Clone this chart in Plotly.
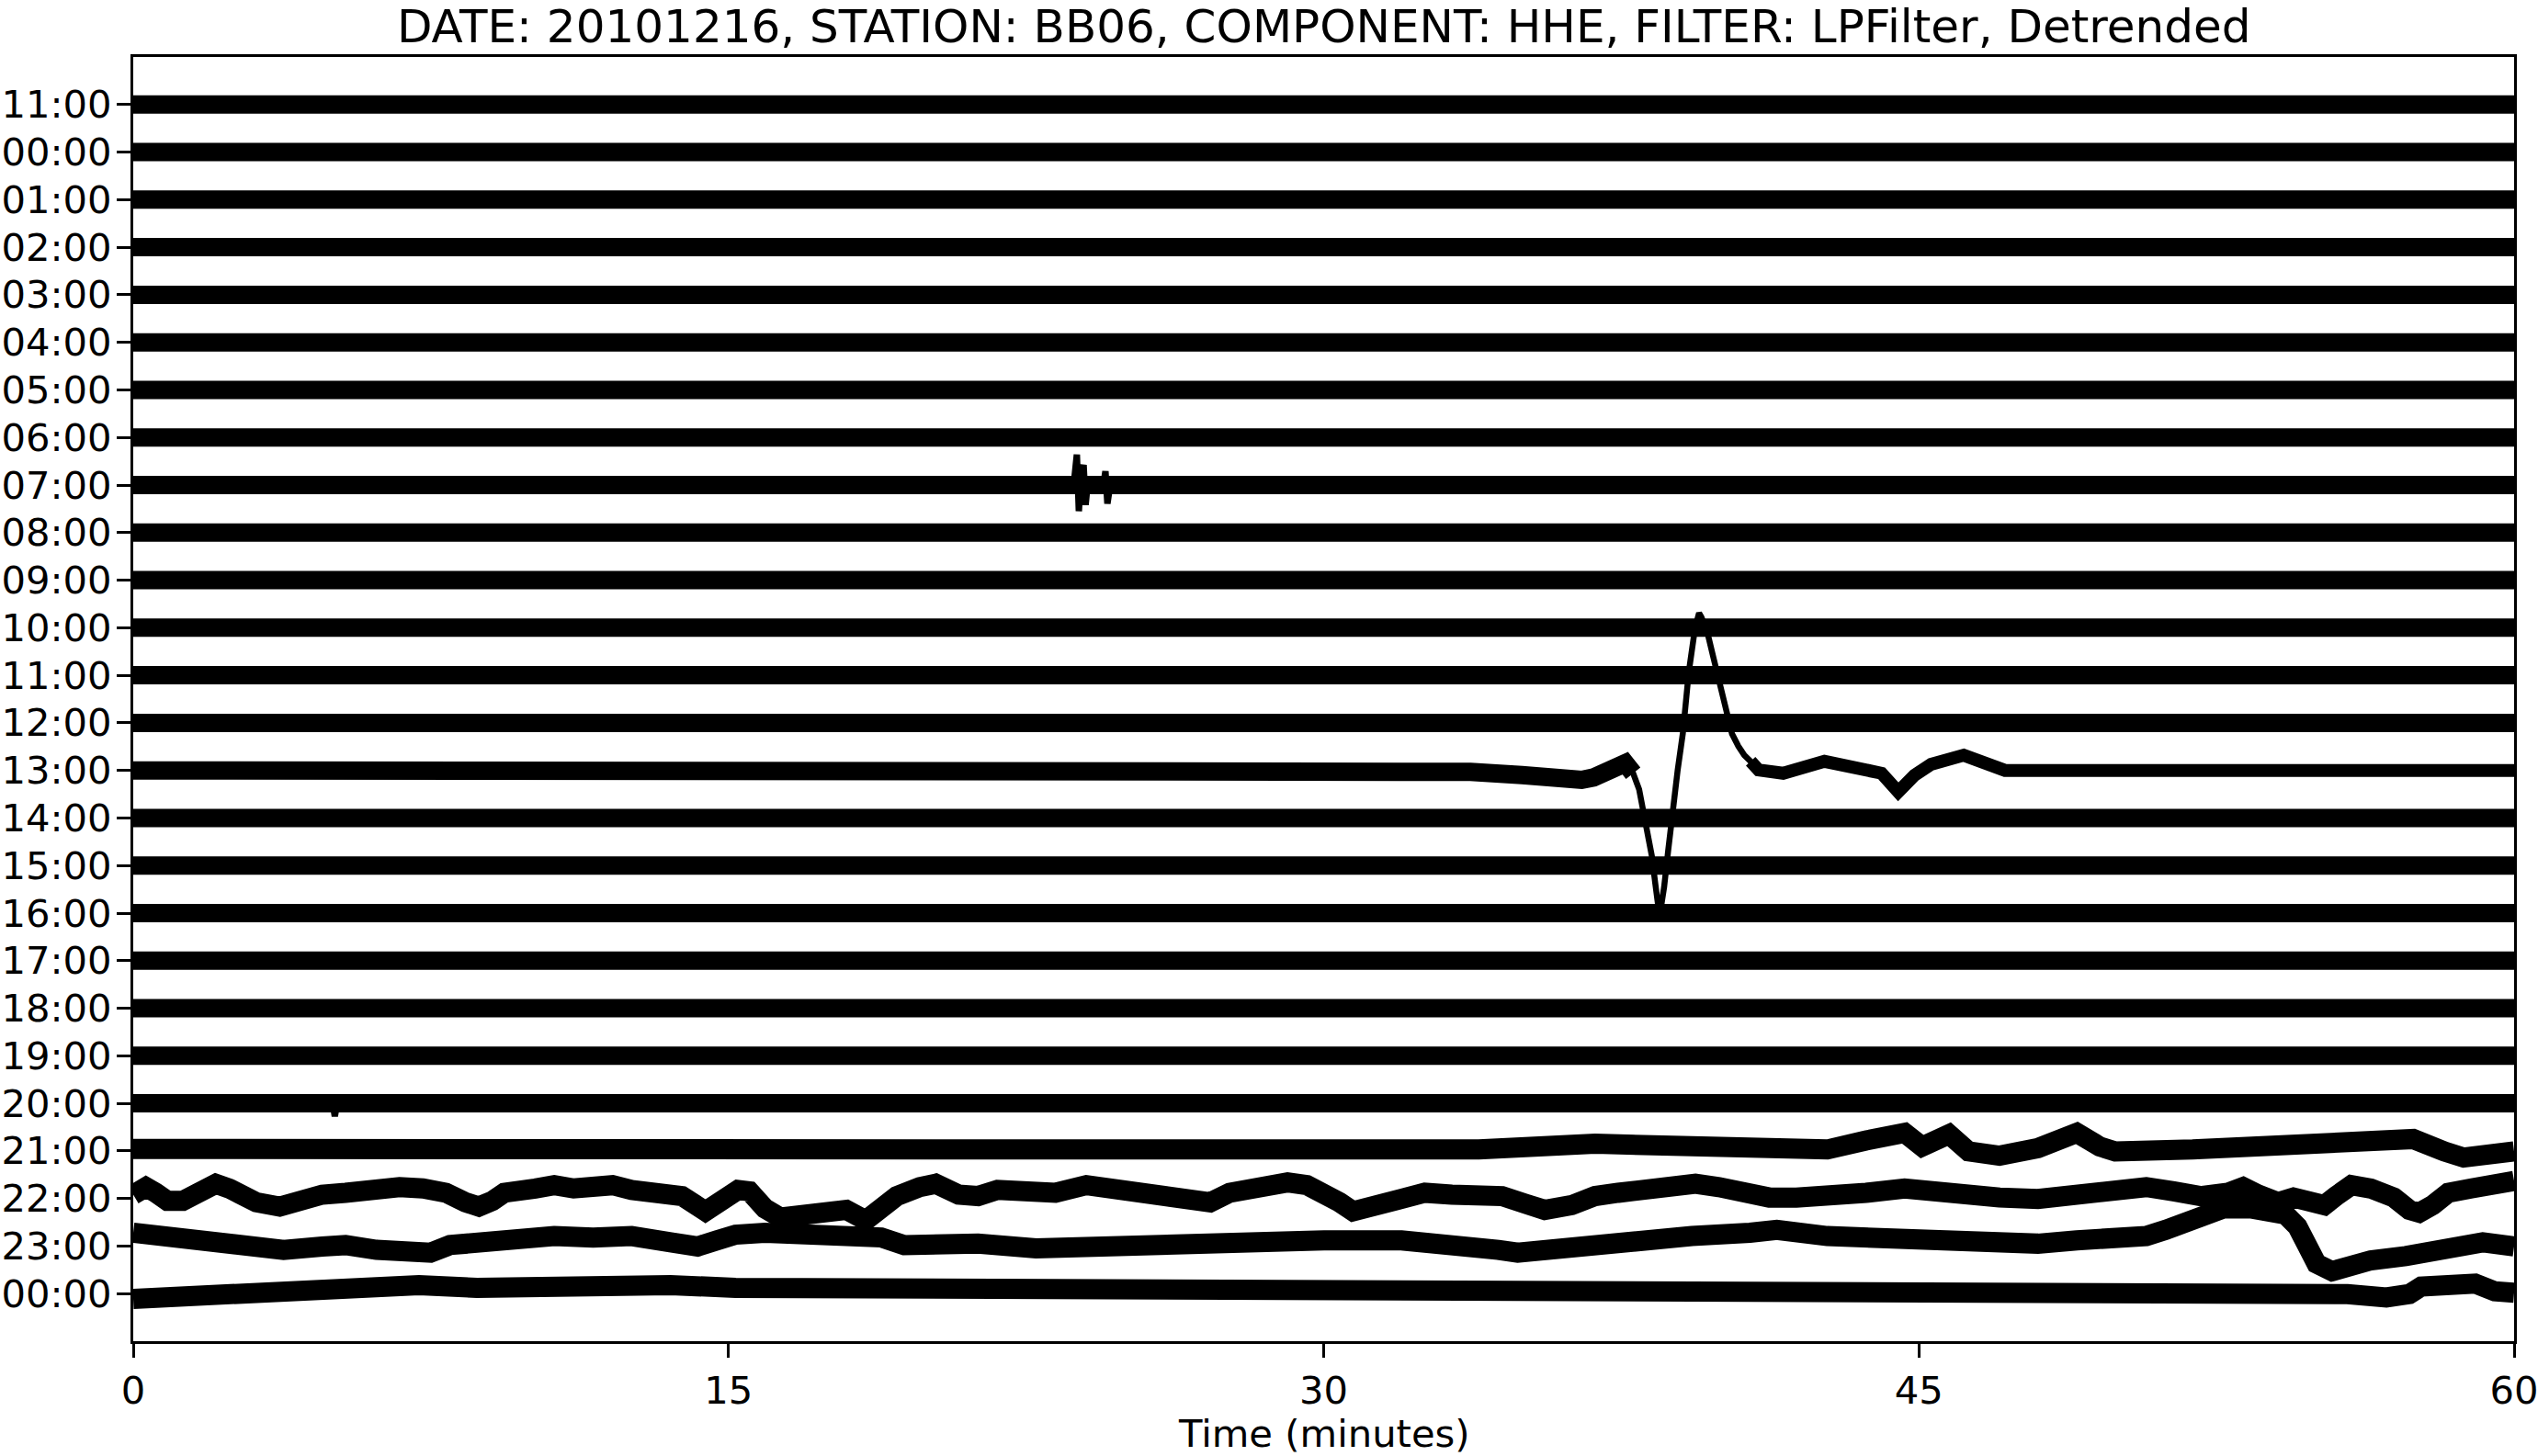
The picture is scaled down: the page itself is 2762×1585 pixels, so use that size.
import plotly.graph_objects as go

# ---------------- data ----------------
hour_labels = ["11:00", "00:00", "01:00", "02:00", "03:00", "04:00", "05:00",
               "06:00", "07:00", "08:00", "09:00", "10:00", "11:00", "12:00",
               "13:00", "14:00", "15:00", "16:00", "17:00", "18:00", "19:00",
               "20:00", "21:00", "22:00", "23:00", "00:00"]
x_ticks = [0, 15, 30, 45, 60]

# quiet rows: noise band centred on the row
flat_x = [0, 60]
flat_y = [0.0, 0.0]

# 07:00 row – small local event (minutes, row offsets)
x07_event = [23.70, 23.78, 23.83, 23.88, 23.95, 24.00, 24.05, 24.45, 24.50, 24.55, 24.62]
y07_event = [0.0, 0.64, -0.55, 0.20, 0.42, -0.42, 0.0, 0.0, 0.29, -0.39, 0.0]

# 20:00 row – single downward glitch
x20_event = [4.90, 5.00, 5.08, 5.16, 5.25]
y20_event = [0.0, 0.15, -0.27, 0.10, 0.0]

# 13:00 row – large teleseismic arrival
x13 = [0, 32.0, 33.7, 35.0, 35.8, 36.5, 36.8, 37.2, 37.6, 37.8, 37.95, 38.06, 38.18,
       38.27, 38.36, 38.43, 38.50, 38.58, 38.68, 38.79, 38.92, 39.05, 39.2, 39.36,
       39.42, 39.46, 39.52, 39.67, 39.82, 39.98, 40.13, 40.29, 40.45, 40.60, 40.76,
       40.96, 41.58, 42.62, 44.06, 44.48, 44.89, 45.31, 46.13, 46.76, 47.17, 60]
y13 = [0.0, 0.0, -0.03, -0.10, -0.18, -0.20, -0.15, -0.05, 0.15, -0.06, -0.40, -0.84,
       -1.35, -1.80, -2.40, -2.85, -2.88, -2.45, -1.70, -0.84, 0.00, 0.77, 2.06, 3.00,
       3.25, 3.31, 3.22, 2.90, 2.38, 1.80, 1.29, 0.77, 0.51, 0.32, 0.19, 0.01, -0.06,
       0.19, -0.06, -0.45, -0.10, 0.13, 0.32, 0.16, 0.0, 0.0]

# 21:00 row
x21 = [0, 15, 30.01, 32.35, 33.91, 36.84, 40.74, 42.69, 43.67, 44.64, 45.08, 45.76,
       46.25, 47.03, 48.0, 48.98, 49.56, 49.95, 51.90, 54.83, 56.29, 57.46, 58.24,
       58.73, 60]
y21 = [0.04, 0.05, 0.06, 0.12, 0.03, 0.15, 0.06, 0.03, 0.22, 0.38, 0.09, 0.35, -0.01,
       -0.10, 0.06, 0.38, 0.09, -0.01, 0.03, 0.09, 0.12, 0.25, -0.01, -0.14, -0.01]

# 22:00 row
x22 = [0, 0.08, 0.32, 0.57, 0.86, 1.25, 1.64, 2.08, 2.42, 2.81, 3.10, 3.69, 4.08, 4.76,
       5.35, 5.93, 6.71, 7.30, 7.88, 8.37, 8.71, 9.05, 9.35, 10.13, 10.61, 11.10, 12.08,
       12.56, 13.34, 13.83, 14.42, 14.81, 15.24, 15.53, 15.92, 16.31, 16.90, 17.39,
       17.97, 18.46, 18.85, 19.24, 19.82, 20.22, 20.80, 21.29, 21.78, 22.75, 23.24,
       24.02, 24.70, 25.68, 26.65, 27.14, 27.63, 28.60, 29.09, 29.58, 30.01, 30.40,
       30.74, 31.28, 31.96, 32.55, 33.23, 33.91, 34.50, 35.08, 35.57, 36.25, 36.84,
       37.42, 38.01, 38.59, 39.37, 39.96, 40.54, 41.23, 41.91, 42.69, 43.67, 44.64,
       45.08, 46.05, 47.03, 48.0, 48.98, 49.95, 50.73, 51.42, 52.10, 52.78, 53.17,
       53.56, 54.05, 54.44, 54.83, 55.22, 55.51, 55.90, 56.39, 56.97, 57.36, 57.61,
       57.95, 58.34, 58.92, 59.51, 60]
y22 = [0.08, 0.15, 0.24, 0.12, -0.05, -0.05, 0.15, 0.31, 0.21, 0.05, -0.08, -0.17,
       -0.05, 0.08, 0.12, 0.18, 0.24, 0.21, 0.12, -0.08, -0.17, -0.05, 0.12, 0.21, 0.28,
       0.21, 0.28, 0.18, 0.15, 0.05, -0.27, -0.11, 0.18, 0.15, -0.21, -0.40, -0.37,
       -0.30, -0.24, -0.46, -0.24, 0.05, 0.24, 0.31, 0.08, 0.05, 0.18, 0.15, 0.12,
       0.28, 0.21, 0.12, 0.05, -0.08, 0.12, 0.31, 0.34, 0.28, 0.15, -0.08, -0.27,
       -0.14, 0.02, 0.12, 0.08, 0.02, 0.05, -0.11, -0.24, -0.14, 0.05, 0.12, 0.18,
       0.28, 0.31, 0.24, 0.12, 0.02, 0.02, 0.02, 0.12, 0.21, 0.16, 0.08, 0.02, -0.01,
       0.08, 0.15, 0.24, 0.15, 0.05, 0.12, 0.24, 0.08, -0.08, 0.02, -0.05, -0.14,
       0.05, 0.28, 0.21, 0.02, -0.24, -0.30, -0.14, 0.12, 0.21, 0.31, 0.37]

# 23:00 row
x23 = [0, 0.47, 1.05, 1.64, 2.32, 3.01, 3.79, 4.76, 5.35, 6.13, 6.71, 7.49, 7.98, 8.66,
       9.64, 10.61, 11.59, 12.56, 13.54, 14.22, 14.71, 15.18, 15.92, 16.90, 17.87,
       18.85, 19.43, 20.31, 21.29, 22.75, 24.21, 25.19, 26.65, 28.12, 29.09, 30.01,
       31.96, 33.43, 34.40, 34.89, 35.86, 36.84, 37.81, 39.28, 40.74, 41.42, 42.69,
       44.16, 45.08, 46.05, 47.03, 48.0, 48.98, 49.95, 50.73, 51.22, 51.51, 51.90,
       52.29, 52.68, 53.36, 53.85, 54.24, 54.54, 54.83, 55.02, 55.41, 55.80, 56.39,
       57.27, 58.24, 59.21, 60]
y23 = [0.28, 0.24, 0.21, 0.15, 0.08, -0.05, -0.08, -0.01, 0.02, -0.08, -0.08, -0.14,
       0.02, 0.08, 0.18, 0.21, 0.18, 0.21, 0.08, -0.01, 0.12, 0.24, 0.28, 0.28, 0.24,
       0.18, 0.02, 0.08, 0.05, -0.05, -0.01, -0.01, 0.05, 0.15, 0.18, 0.12, 0.12, 0.05,
       -0.08, -0.14, -0.05, 0.05, 0.08, 0.21, 0.28, 0.34, 0.21, 0.18, 0.08, 0.08, 0.05,
       0.05, 0.12, 0.15, 0.21, 0.34, 0.44, 0.57, 0.73, 0.79, 0.79, 0.76, 0.66, 0.41,
       -0.05, -0.37, -0.53, -0.43, -0.30, -0.21, -0.11, 0.08, -0.01]

# last 00:00 row
x00 = [0, 0.86, 1.84, 2.81, 3.79, 4.76, 5.74, 6.71, 7.20, 8.66, 9.64, 10.61, 11.59,
       12.56, 13.54, 15.18, 22.0, 30.0, 38.0, 45.08, 49.95, 53.85, 55.80, 56.78, 57.36,
       57.66, 58.53, 59.02, 59.51, 60]
y00 = [-0.11, -0.08, -0.05, -0.05, 0.02, 0.05, 0.05, 0.12, 0.18, 0.12, 0.15, 0.12,
       0.15, 0.15, 0.18, 0.12, 0.09, 0.11, 0.10, 0.05, 0.05, 0.05, -0.01, -0.08, -0.01,
       0.15, 0.24, 0.21, 0.05, 0.02]

special_rows = {14: (x13, y13), 22: (x21, y21), 23: (x22, y22), 24: (x23, y23), 25: (x00, y00)}
event_rows = {8: (x07_event, y07_event), 21: (x20_event, y20_event)}

# ---------------- figure ----------------
FONT = "DejaVu Sans"
BAND = 20
THIN = 6.5
fig = go.Figure()


def add_line(xs, ys, row, width):
    fig.add_trace(go.Scatter(
        x=xs, y=[-row + v for v in ys], mode="lines",
        line=dict(color="black", width=width),
        hoverinfo="skip", showlegend=False))


for row in range(len(hour_labels)):
    if row == 14:
        pre = [(a, b) for a, b in zip(x13, y13) if a <= 37.8]
        evt = [(a, b) for a, b in zip(x13, y13) if 37.6 <= a <= 40.96]
        post = [(a, b) for a, b in zip(x13, y13) if a >= 40.76]
        add_line([p[0] for p in pre], [p[1] for p in pre], row, BAND)
        add_line([p[0] for p in post], [p[1] for p in post], row, 14)
        add_line([p[0] for p in evt], [p[1] for p in evt], row, THIN)
    elif row in special_rows:
        xs, ys = special_rows[row]
        add_line(xs, ys, row, BAND + 2)
    else:
        add_line(flat_x, flat_y, row, BAND)
        if row in event_rows:
            ex, ey = event_rows[row]
            add_line(ex, ey, row, 7)

axis_common = dict(showgrid=False, zeroline=False, showline=True, linecolor="black",
                   linewidth=3.3, mirror=True, ticks="outside", ticklen=15,
                   tickwidth=3.3, tickcolor="black", automargin=False,
                   ticklabeloverflow="allow",
                   tickfont=dict(family=FONT, size=41.7, color="black"))

fig.update_xaxes(range=[0, 60], tickvals=x_ticks, ticktext=[str(v) for v in x_ticks],
                 **axis_common)
fig.update_yaxes(range=[-len(hour_labels), 1], tickvals=[-i for i in range(len(hour_labels))],
                 ticktext=hour_labels, ticklabelstandoff=-3, **axis_common)

fig.update_layout(
    width=2762, height=1585,
    margin=dict(l=145, r=26, t=62, b=125, autoexpand=False),
    paper_bgcolor="white", plot_bgcolor="white",
    font=dict(family=FONT, color="black"),
    annotations=[
        dict(text="DATE: 20101216, STATION: BB06, COMPONENT: HHE, FILTER: LPFilter, Detrended",
             xref="paper", yref="paper", x=0.5, y=1 + 64 / 1398, xanchor="center",
             yanchor="top", showarrow=False, font=dict(family=FONT, size=50, color="black")),
        dict(text="Time (minutes)", xref="paper", yref="paper", x=0.5, y=-100 / 1398,
             xanchor="center", yanchor="middle", showarrow=False,
             font=dict(family=FONT, size=41.7, color="black")),
    ],
)

fig.write_html("out.html", config={"displayModeBar": False},
               post_script="document.body.style.margin='0';document.body.style.overflow='hidden';")
